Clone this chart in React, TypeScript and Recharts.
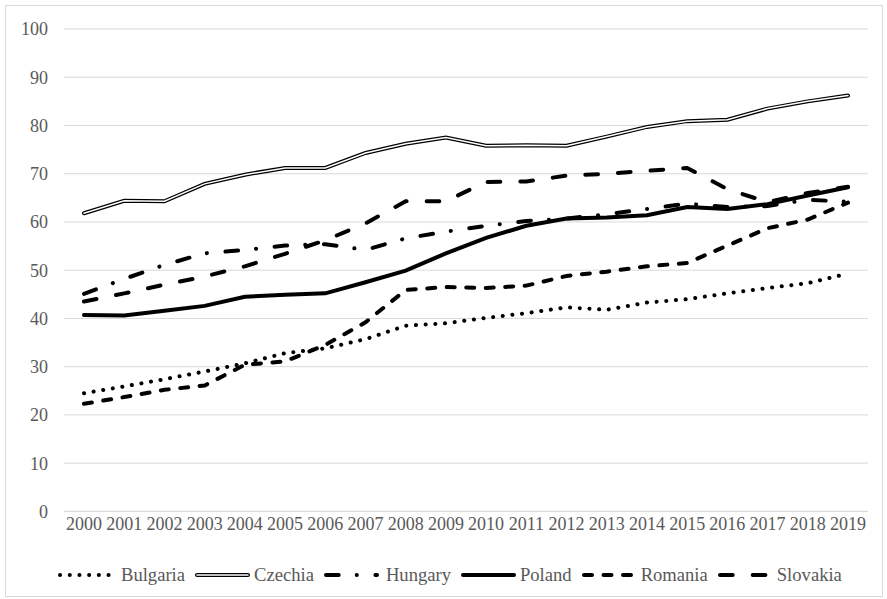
import React from "react";
import { LineChart, Line, XAxis, YAxis, CartesianGrid, Legend } from "recharts";

const years = ["2000", "2001", "2002", "2003", "2004", "2005", "2006", "2007", "2008", "2009", "2010", "2011", "2012", "2013", "2014", "2015", "2016", "2017", "2018", "2019"];
const bulgaria = [24.5, 25.9, 27.4, 29.0, 30.7, 32.8, 33.8, 35.7, 38.5, 39.0, 40.1, 41.1, 42.3, 41.8, 43.3, 44.0, 45.2, 46.3, 47.3, 49.3];
const czechia = [61.8, 64.4, 64.3, 67.9, 69.8, 71.2, 71.2, 74.3, 76.2, 77.5, 75.8, 75.9, 75.8, 77.7, 79.7, 80.9, 81.2, 83.5, 85.0, 86.2];
const hungary = [45.1, 48.2, 51.1, 53.5, 54.2, 55.1, 55.4, 54.2, 56.6, 58.0, 59.2, 60.2, 60.7, 61.6, 62.7, 63.8, 63.1, 63.3, 64.6, 64.2];
const poland = [40.7, 40.6, 41.6, 42.6, 44.5, 44.9, 45.2, 47.5, 49.9, 53.5, 56.7, 59.2, 60.7, 60.9, 61.4, 63.1, 62.7, 63.7, 65.5, 67.2];
const romania = [22.3, 23.7, 25.2, 26.1, 30.4, 31.1, 34.5, 39.2, 45.9, 46.5, 46.3, 46.8, 48.8, 49.7, 50.8, 51.5, 55.1, 58.7, 60.5, 64.0];
const slovakia = [43.5, 45.2, 47.0, 48.7, 50.8, 53.4, 56.2, 59.7, 64.3, 64.3, 68.3, 68.4, 69.6, 70.0, 70.6, 71.2, 66.8, 64.1, 66.0, 67.3];
const yTicks = [0, 10, 20, 30, 40, 50, 60, 70, 80, 90, 100];

const data = years.map((year, i) => ({
  year,
  Bulgaria: bulgaria[i],
  Czechia: czechia[i],
  Hungary: hungary[i],
  Poland: poland[i],
  Romania: romania[i],
  Slovakia: slovakia[i],
}));

const FONT = '"Liberation Serif", "Times New Roman", serif';
const TEXT = "#595959";
const W = 4;

type Style = { dash?: string; double?: boolean };
const styles: Record<string, Style> = {
  Bulgaria: { dash: "0.1 9.6" },
  Czechia: { double: true },
  Hungary: { dash: "12.7 18 0.1 18.6" },
  Poland: {},
  Romania: { dash: "8 11.5" },
  Slovakia: { dash: "12.7 20" },
};
const order = ["Bulgaria", "Czechia", "Hungary", "Poland", "Romania", "Slovakia"];

function LegendSymbol({ name }: { name: string }) {
  const s = styles[name];
  return (
    <svg width={55} height={14} style={{ display: "block" }}>
      <line x1={2} y1={7} x2={53} y2={7} stroke="#000" strokeWidth={W} strokeLinecap="round" strokeDasharray={s.dash} />
      {s.double && <line x1={2} y1={7} x2={53} y2={7} stroke="#fff" strokeWidth={1.5} strokeLinecap="round" />}
    </svg>
  );
}

function renderLegend() {
  return (
    <div style={{ display: "flex", alignItems: "center", fontFamily: FONT, fontSize: 18.6, color: TEXT, whiteSpace: "nowrap", height: 20 }}>
      {order.map((name) => (
        <div key={name} style={{ display: "flex", alignItems: "center", marginRight: 10 }}>
          <LegendSymbol name={name} />
          <span style={{ marginLeft: name === "Bulgaria" ? 8 : name === "Hungary" ? 7 : 4 }}>{name}</span>
        </div>
      ))}
    </div>
  );
}

export default function App() {
  return (
    <div style={{ position: "absolute", left: 0, top: 0, width: 887, height: 599, background: "#fff" }}>
      <div style={{ position: "absolute", left: 5, top: 5, width: 876, height: 590, border: "1px solid #d9d9d9" }} />
      <LineChart
        width={887}
        height={599}
        data={data}
        margin={{ top: 29, right: 19, left: 0, bottom: 37.6 }}
      >
        <CartesianGrid vertical={false} stroke="#d9d9d9" strokeWidth={1} />
        <XAxis
          dataKey="year"
          interval={0}
          padding={{ left: 20, right: 20 }}
          axisLine={{ stroke: "#d9d9d9" }}
          tickLine={false}
          tickSize={0}
          tickMargin={6}
          height={30}
          tick={{ fill: TEXT, fontSize: 18, fontFamily: FONT }}
        />
        <YAxis
          domain={[0, 100]}
          ticks={yTicks}
          width={64}
          axisLine={false}
          tickLine={false}
          tickSize={0}
          tickMargin={16}
          tick={{ fill: TEXT, fontSize: 18, fontFamily: FONT }}
        />
        <Legend
          verticalAlign="bottom"
          content={renderLegend}
          height={20}
          wrapperStyle={{ position: "absolute", left: 58, top: 565, width: "auto" }}
        />
        <Line dataKey="Bulgaria" stroke="#000" strokeWidth={W} strokeDasharray={styles.Bulgaria.dash} strokeLinecap="round" dot={false} isAnimationActive={false} />
        <Line dataKey="Czechia" stroke="#000" strokeWidth={W} strokeLinecap="round" dot={false} isAnimationActive={false} />
        <Line dataKey="Czechia" name="Czechia inner" stroke="#fff" strokeWidth={1.5} strokeLinecap="round" dot={false} legendType="none" isAnimationActive={false} />
        <Line dataKey="Hungary" stroke="#000" strokeWidth={W} strokeDasharray={styles.Hungary.dash} strokeLinecap="round" dot={false} isAnimationActive={false} />
        <Line dataKey="Poland" stroke="#000" strokeWidth={W} strokeLinecap="round" dot={false} isAnimationActive={false} />
        <Line dataKey="Romania" stroke="#000" strokeWidth={W} strokeDasharray={styles.Romania.dash} strokeLinecap="round" dot={false} isAnimationActive={false} />
        <Line dataKey="Slovakia" stroke="#000" strokeWidth={W} strokeDasharray={styles.Slovakia.dash} strokeLinecap="round" dot={false} isAnimationActive={false} />
      </LineChart>
    </div>
  );
}
